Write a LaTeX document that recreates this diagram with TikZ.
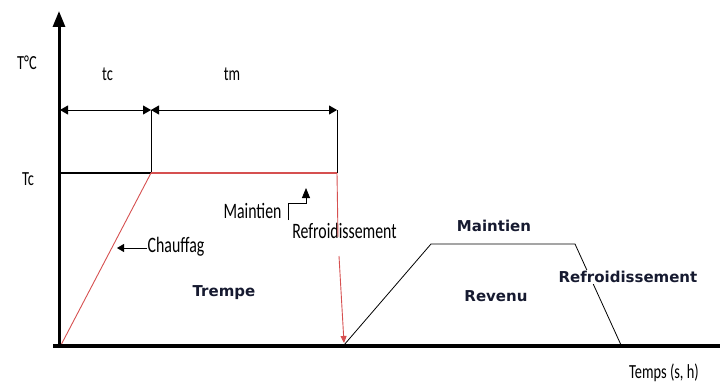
\documentclass[tikz,border=0pt]{standalone}
\usepackage{fontspec}
\usepackage{graphicx}
\usetikzlibrary{arrows.meta}
\newfontfamily\cfont{Carlito}
\newfontfamily\vfont{DejaVu Sans}
\newcommand{\cz}[1]{\scalebox{0.72}[1]{#1}}
\definecolor{redc}{RGB}{214,80,80}
\definecolor{labcol}{RGB}{22,26,48}
\tikzset{
  cond/.style={font=\fontsize{20}{22}\selectfont\cfont, inner sep=0pt},
  condL/.style={font=\fontsize{22}{24}\selectfont\cfont, inner sep=0pt},
  boldlab/.style={font=\fontsize{15}{17}\selectfont\vfont\bfseries, text=labcol, inner sep=0pt},
  axisl/.style={line width=3pt, black},
  thinl/.style={line width=0.8pt, black},
  redl/.style={draw=redc, line width=0.9pt},
  dimarrow/.style={thinl, {Triangle[length=8pt,width=9pt]}-{Triangle[length=8pt,width=9pt]}},
}
\begin{document}
\begin{tikzpicture}[x=1pt,y=-1pt]
\useasboundingbox (0,0) rectangle (720,385);
% coordinates
\coordinate (ybot) at (59,348);
\coordinate (ytop) at (59,11);
\coordinate (xs) at (53,346);
\coordinate (xe) at (720,346);
\coordinate (A) at (59,173);
\coordinate (B) at (151,173);
\coordinate (C) at (337,173);
\coordinate (At) at (60,110);
\coordinate (Bt) at (151,110);
\coordinate (Ct) at (337,110);
\coordinate (H0) at (61,345);
\coordinate (c1) at (338,237);
\coordinate (c2) at (339,256);
\coordinate (c3) at (344,343);
\coordinate (R0) at (344,345);
\coordinate (R1) at (431,244);
\coordinate (R2) at (575,244);
\coordinate (R3) at (621,345);
\coordinate (ch1) at (147,248);
\coordinate (ch2) at (117,248);
\coordinate (k1) at (288,220);
\coordinate (k2) at (306,203);
\coordinate (k3) at (306,188);

% labels
\node[cond] (TdegC) at (27,63) {\cz{T°C}};
\node[cond] (tcl) at (107.5,74.5) {\cz{tc}};
\node[cond] (tml) at (232,74.5) {\cz{tm}};
\node[cond] (Tcl) at (28,179) {\cz{Tc}};
\node[cond] (temps) at (664,373) {\cz{Temps (s, h)}};
\node[condL] (chauf) at (176,246.5) {\cz{Chauffag}};
\node[condL] (maint1) at (252.5,211) {\cz{Maintien}};
\node[condL] (refr1) at (344.5,230.5) {\cz{Refroidissement}};
\node[boldlab] (trempe) at (224,293) {Trempe};
\node[boldlab] (revenu) at (496,296) {Revenu};
\node[boldlab] (maint2) at (494,226) {Maintien};

% verticals and dimension lines
\draw[thinl] (B) -- (Bt);
\draw[thinl] (C) -- (Ct);
\draw[dimarrow] (At) -- (Bt);
\draw[dimarrow] (Bt) -- (Ct);

% Tc level
\draw[line width=2pt, black] (A) -- (B);
\draw[draw=redc, line width=2.2pt] (B) -- (C);

% heating ramp
\draw[redl] (H0) -- (B);
\draw[thinl, -{Triangle[length=7pt,width=8pt]}] (ch1) -- (ch2);

% quench
\draw[redl] (C) -- (c1);
\draw[redl, -{Triangle[length=7pt,width=6pt]}] (c2) -- (c3);

% bracket arrow
\draw[thinl, -{Triangle[length=10pt,width=8pt]}] (k1) |- (k2) -- (k3);

% tempering cycle
\draw[thinl] (R0) -- (R1) -- (R2) -- (R3);
\node[boldlab, fill=white, inner sep=1.5pt] (refr2) at (628,277) {Refroidissement};

% axes
\draw[axisl, -{Triangle[length=16pt,width=12pt]}] (ybot) -- (ytop);
\draw[line width=3.5pt, black] (xs) -- (xe);
\end{tikzpicture}
\end{document}
